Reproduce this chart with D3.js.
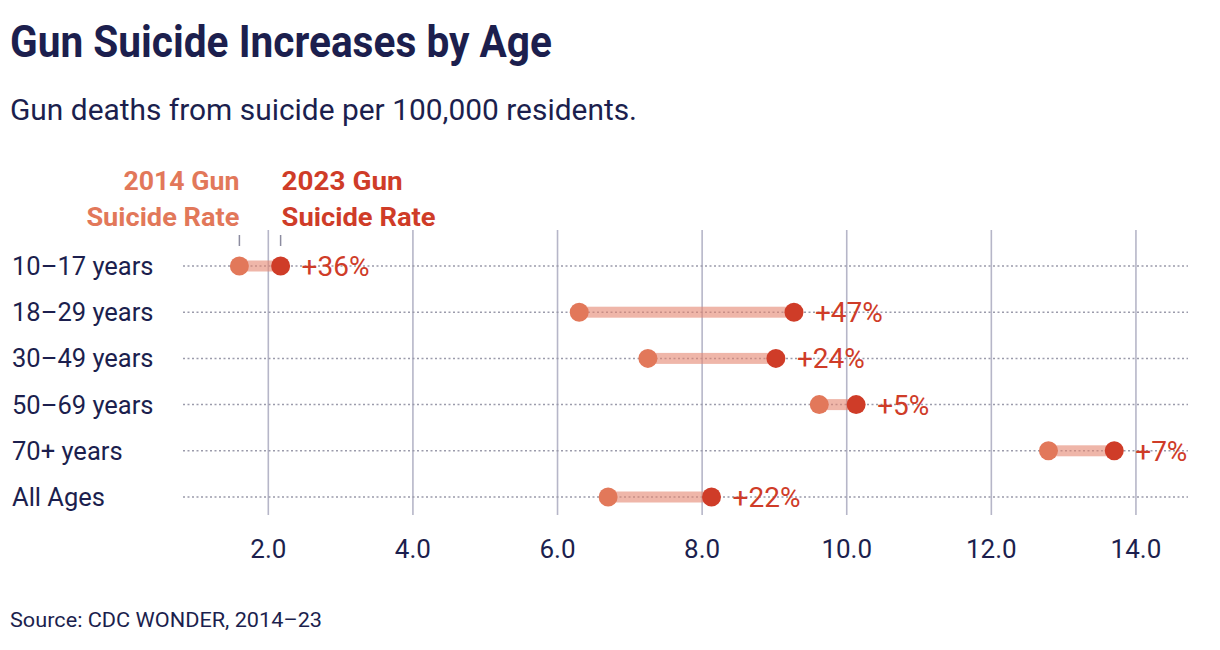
<!DOCTYPE html>
<html>
<head>
<meta charset="utf-8">
<script src="https://cdn.jsdelivr.net/npm/d3@7"></script>
<style>
	body { margin: 0; background: #fff; }
	svg { font-family: Roboto, "Noto Sans", sans-serif; }
</style>
</head>
<body>
<div id="chart"></div>
<script>
const ageGroups = ['10–17 years', '18–29 years', '30–49 years', '50–69 years', '70+ years', 'All Ages'];
const rate2014 = [1.6, 6.3, 7.25, 9.62, 12.79, 6.7];
const rate2023 = [2.17, 9.27, 9.02, 10.13, 13.7, 8.13];
const changeLabels = ['+36%', '+47%', '+24%', '+5%', '+7%', '+22%'];
const xTicks = [2, 4, 6, 8, 10, 12, 14];

const navy = '#1c1f4e';
const c2014 = '#e2785a';
const c2023 = '#cf3c28';

const width = 1220, height = 650;

const svg = d3.select('#chart')
	.append('svg')
	.attr('width', width)
	.attr('height', height);

const data = ageGroups.map((g, i) => ({ group: g, a: rate2014[i], b: rate2023[i], change: changeLabels[i] }));

// 2.0 sits at 268px, 14.0 at 1136px
const x = d3.scaleLinear()
	.domain([0.82, 14.72])
	.range([183, 1188]);

const y = d3.scalePoint()
	.domain(ageGroups)
	.range([266, 497]);

// titles
svg.append('text')
	.attr('x', 10).attr('y', 57)
	.attr('fill', navy)
	.attr('font-size', 44)
	.attr('font-weight', 700)
	.attr('textLength', 542)
	.attr('lengthAdjust', 'spacingAndGlyphs')
	.text('Gun Suicide Increases by Age');

svg.append('text')
	.attr('x', 10).attr('y', 120)
	.attr('fill', navy)
	.attr('font-size', 30)
	.attr('textLength', 627)
	.attr('lengthAdjust', 'spacingAndGlyphs')
	.text('Gun deaths from suicide per 100,000 residents.');

// vertical gridlines
svg.append('g')
	.selectAll('line')
	.data(xTicks)
	.join('line')
	.attr('x1', d => x(d)).attr('x2', d => x(d))
	.attr('y1', 230).attr('y2', 515)
	.attr('stroke', '#b6b6c8')
	.attr('stroke-width', 1.6);

// x axis labels
svg.append('g')
	.selectAll('text')
	.data(xTicks)
	.join('text')
	.attr('x', d => x(d))
	.attr('y', 558)
	.attr('text-anchor', 'middle')
	.attr('fill', navy)
	.attr('font-size', 26)
	.text(d => d3.format('.1f')(d));

// dotted row lines
svg.append('g')
	.selectAll('line')
	.data(ageGroups)
	.join('line')
	.attr('x1', x.range()[0]).attr('x2', x.range()[1])
	.attr('y1', d => y(d)).attr('y2', d => y(d))
	.attr('stroke', '#9b9bab')
	.attr('stroke-width', 1.5)
	.attr('stroke-dasharray', '2,2.5');

// row labels
svg.append('g')
	.selectAll('text')
	.data(ageGroups)
	.join('text')
	.attr('x', 12)
	.attr('y', d => y(d) + 9)
	.attr('fill', navy)
	.attr('font-size', 25.5)
	.text(d => d);

const rows = svg.append('g')
	.selectAll('g')
	.data(data)
	.join('g')
	.attr('transform', d => `translate(0,${y(d.group)})`);

rows.append('rect')
	.attr('x', d => x(d.a))
	.attr('width', d => x(d.b) - x(d.a))
	.attr('y', -5.5)
	.attr('height', 11)
	.attr('fill', '#e58670')
	.attr('fill-opacity', 0.6);

rows.append('circle')
	.attr('cx', d => x(d.a))
	.attr('r', 9.5)
	.attr('fill', c2014);

rows.append('circle')
	.attr('cx', d => x(d.b))
	.attr('r', 9.5)
	.attr('fill', c2023);

rows.append('text')
	.attr('x', d => x(d.b) + 21)
	.attr('y', 10)
	.attr('fill', c2023)
	.attr('font-size', 28)
	.text(d => d.change);

// legend above first row
const first = data[0];
const legend = svg.append('g');

legend.append('line')
	.attr('x1', x(first.a)).attr('x2', x(first.a))
	.attr('y1', 235).attr('y2', 246)
	.attr('stroke', '#8c8ca0').attr('stroke-width', 1.5);
legend.append('line')
	.attr('x1', x(first.b)).attr('x2', x(first.b))
	.attr('y1', 235).attr('y2', 246)
	.attr('stroke', '#8c8ca0').attr('stroke-width', 1.5);

const legendLines = [
	{ text: '2014 Gun', len: 116, anchor: 'end', xv: first.a, dx: 0, color: c2014, row: 0 },
	{ text: 'Suicide Rate', len: 153, anchor: 'end', xv: first.a, dx: 0, color: c2014, row: 1 },
	{ text: '2023 Gun', len: 121, anchor: 'start', xv: first.b, dx: 1, color: c2023, row: 0 },
	{ text: 'Suicide Rate', len: 154, anchor: 'start', xv: first.b, dx: 1, color: c2023, row: 1 }
];

legend.selectAll('text')
	.data(legendLines)
	.join('text')
	.attr('x', d => x(d.xv) + d.dx)
	.attr('y', d => 190 + d.row * 36)
	.attr('text-anchor', d => d.anchor)
	.attr('fill', d => d.color)
	.attr('font-size', 26)
	.attr('font-weight', 700)
	.attr('textLength', d => d.len)
	.attr('lengthAdjust', 'spacingAndGlyphs')
	.text(d => d.text);

// source
svg.append('text')
	.attr('x', 10).attr('y', 627)
	.attr('fill', navy)
	.attr('font-size', 21)
	.attr('textLength', 312)
	.attr('lengthAdjust', 'spacingAndGlyphs')
	.text('Source: CDC WONDER, 2014–23');
</script>
</body>
</html>
